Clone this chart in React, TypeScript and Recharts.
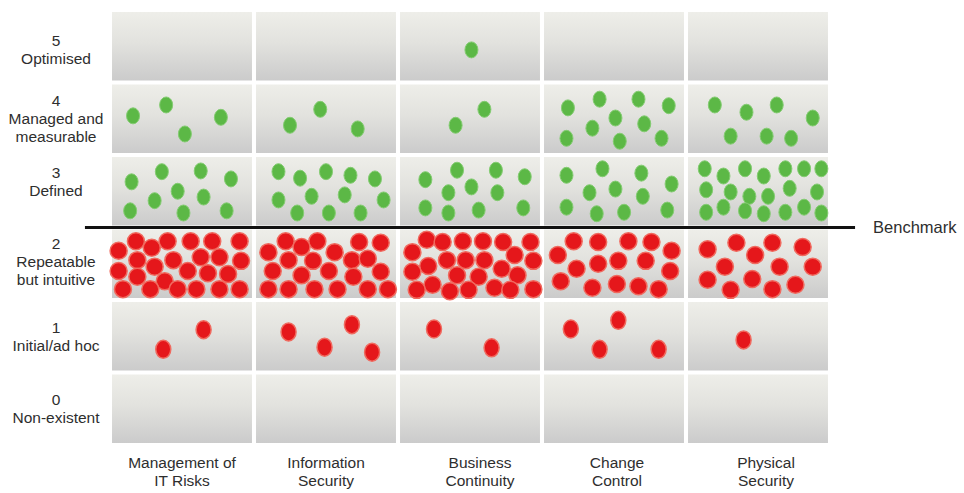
import {
  ScatterChart,
  Scatter,
  XAxis,
  YAxis,
  ReferenceArea,
  ReferenceLine,
} from "recharts";

const categories = [
  "Management of\nIT Risks",
  "Information\nSecurity",
  "Business\nContinuity",
  "Change\nControl",
  "Physical\nSecurity",
];

const levelNumbers = ["0", "1", "2", "3", "4", "5"];
const levelNames = [
  "Non-existent",
  "Initial/ad hoc",
  "Repeatable\nbut intuitive",
  "Defined",
  "Managed and\nmeasurable",
  "Optimised",
];
const levelShares = ["0%", "6%", "50%", "31%", "13%", ".5%"];
const benchmarkLevel = 3;

// each cell: list of [x, y] positions inside the cell (0..1), one per organisation
const level5Dots = [[], [], [[0.51, 0.45]], [], []];

const level4Dots = [
  [[0.16, 0.54], [0.39, 0.69], [0.52, 0.29], [0.77, 0.52]],
  [[0.25, 0.41], [0.46, 0.63], [0.72, 0.36]],
  [[0.4, 0.41], [0.6, 0.63]],
  [
    [0.18, 0.65], [0.4, 0.77], [0.67, 0.77], [0.88, 0.68], [0.51, 0.51],
    [0.35, 0.37], [0.71, 0.43], [0.17, 0.23], [0.54, 0.19], [0.83, 0.23],
  ],
  [
    [0.2, 0.69], [0.42, 0.59], [0.63, 0.69], [0.88, 0.51], [0.31, 0.26],
    [0.56, 0.26], [0.73, 0.23],
  ],
];

const level3Dots = [
  [
    [0.15, 0.63], [0.36, 0.77], [0.63, 0.78], [0.84, 0.67], [0.47, 0.5],
    [0.65, 0.42], [0.31, 0.37], [0.14, 0.23], [0.51, 0.2], [0.81, 0.23],
  ],
  [
    [0.17, 0.77], [0.32, 0.68], [0.5, 0.77], [0.67, 0.72], [0.84, 0.67],
    [0.17, 0.38], [0.4, 0.43], [0.63, 0.45], [0.9, 0.38], [0.3, 0.2],
    [0.52, 0.2], [0.74, 0.2],
  ],
  [
    [0.19, 0.66], [0.41, 0.79], [0.68, 0.79], [0.88, 0.7], [0.35, 0.48],
    [0.51, 0.56], [0.69, 0.48], [0.87, 0.27], [0.19, 0.27], [0.35, 0.2],
    [0.56, 0.24],
  ],
  [
    [0.17, 0.72], [0.42, 0.81], [0.69, 0.75], [0.9, 0.6], [0.33, 0.48],
    [0.51, 0.53], [0.7, 0.43], [0.17, 0.28], [0.38, 0.19], [0.57, 0.21],
    [0.87, 0.24],
  ],
  [
    [0.13, 0.81], [0.26, 0.71], [0.41, 0.81], [0.54, 0.71], [0.69, 0.81],
    [0.82, 0.81], [0.94, 0.81], [0.14, 0.52], [0.31, 0.49], [0.44, 0.43],
    [0.57, 0.43], [0.72, 0.54], [0.91, 0.49], [0.14, 0.21], [0.26, 0.28],
    [0.41, 0.23], [0.54, 0.19], [0.69, 0.21], [0.82, 0.28], [0.94, 0.2],
  ],
];

const level2Dots = [
  [
    [0.18, 0.81], [0.4, 0.81], [0.56, 0.81], [0.71, 0.81], [0.9, 0.81],
    [0.29, 0.72], [0.06, 0.68], [0.19, 0.55], [0.44, 0.55], [0.63, 0.59],
    [0.76, 0.59], [0.91, 0.54], [0.06, 0.4], [0.31, 0.46], [0.54, 0.4],
    [0.68, 0.37], [0.82, 0.36], [0.19, 0.32], [0.38, 0.26], [0.09, 0.15],
    [0.28, 0.15], [0.47, 0.15], [0.6, 0.15], [0.76, 0.15], [0.9, 0.15],
  ],
  [
    [0.22, 0.81], [0.44, 0.81], [0.73, 0.8], [0.88, 0.79], [0.1, 0.66],
    [0.33, 0.73], [0.56, 0.66], [0.24, 0.55], [0.41, 0.54], [0.68, 0.55],
    [0.79, 0.57], [0.13, 0.4], [0.33, 0.34], [0.52, 0.4], [0.69, 0.32],
    [0.88, 0.39], [0.1, 0.15], [0.24, 0.15], [0.42, 0.15], [0.58, 0.15],
    [0.79, 0.15], [0.93, 0.15],
  ],
  [
    [0.2, 0.83], [0.31, 0.8], [0.45, 0.81], [0.59, 0.81], [0.73, 0.8],
    [0.92, 0.8], [0.1, 0.66], [0.34, 0.55], [0.47, 0.55], [0.6, 0.55],
    [0.81, 0.62], [0.94, 0.54], [0.21, 0.47], [0.1, 0.39], [0.41, 0.34],
    [0.56, 0.32], [0.72, 0.43], [0.83, 0.34], [0.24, 0.21], [0.13, 0.14],
    [0.36, 0.12], [0.49, 0.14], [0.67, 0.17], [0.78, 0.14], [0.94, 0.15],
  ],
  [
    [0.22, 0.81], [0.39, 0.8], [0.6, 0.81], [0.76, 0.8], [0.9, 0.68],
    [0.11, 0.62], [0.39, 0.5], [0.53, 0.54], [0.72, 0.54], [0.24, 0.43],
    [0.89, 0.4], [0.13, 0.26], [0.35, 0.17], [0.52, 0.22], [0.67, 0.19],
    [0.81, 0.15],
  ],
  [
    [0.15, 0.7], [0.35, 0.79], [0.6, 0.79], [0.81, 0.73], [0.48, 0.62],
    [0.27, 0.46], [0.65, 0.46], [0.88, 0.46], [0.15, 0.28], [0.46, 0.29],
    [0.31, 0.14], [0.6, 0.15], [0.76, 0.21],
  ],
];

const level1Dots = [
  [[0.37, 0.32], [0.65, 0.59]],
  [[0.24, 0.56], [0.68, 0.66], [0.49, 0.35], [0.82, 0.28]],
  [[0.25, 0.6], [0.65, 0.34]],
  [[0.2, 0.6], [0.53, 0.72], [0.4, 0.32], [0.81, 0.32]],
  [[0.4, 0.45]],
];

const toPoints = (level: number, cells: number[][][]) =>
  cells.flatMap((cell, col) =>
    cell.map(([fx, fy]) => ({ x: col + fx, y: level + fy }))
  );

const greenPoints = [
  ...toPoints(5, level5Dots),
  ...toPoints(4, level4Dots),
  ...toPoints(3, level3Dots),
];
const redPoints = toPoints(2, level2Dots);
const redFewPoints = toPoints(1, level1Dots);

const FONT = "'Liberation Sans', Arial, Helvetica, sans-serif";
const TEXT = "#2e2e2e";

const cells = levelNumbers.flatMap((_, level) =>
  categories.map((_, col) => ({ col, level }))
);

const GreenDot = (p: any) => (
  <ellipse cx={p.cx} cy={p.cy} rx={6.5} ry={8} fill="#5cb846" stroke="#84cc72" strokeWidth={1} />
);
const RedDot = (p: any) => (
  <circle cx={p.cx} cy={p.cy} r={8.5} fill="#e5171b" stroke="#f06a5f" strokeWidth={1.5} />
);
const RedSmallDot = (p: any) => (
  <ellipse cx={p.cx} cy={p.cy} rx={7.5} ry={9} fill="#e5171b" stroke="#f06a5f" strokeWidth={1.5} />
);

const levelNudge = [0, 0, -2, -10, 0, 3];
const categoryNudge = [0, 0, 10, 3, 8];

const LevelTick = (props: any) => {
  const { x, y, payload } = props;
  const level = Math.floor(payload.value);
  const lines = [levelNumbers[level], ...levelNames[level].split("\n")];
  const start = y - ((lines.length - 1) * 18) / 2 + levelNudge[level];
  return (
    <g>
      {lines.map((t, i) => (
        <text
          key={i}
          x={x - 54}
          y={start + i * 18}
          dy="0.35em"
          textAnchor="middle"
          fontFamily={FONT}
          fontSize={15.5}
          fill={TEXT}
        >
          {t}
        </text>
      ))}
    </g>
  );
};

const ShareTick = (props: any) => {
  const { x, y, payload } = props;
  const level = Math.floor(payload.value);
  return (
    <text x={x + 8} y={y + 2} dy="0.35em" textAnchor="start" fontFamily={FONT} fontSize={14.5} fill={TEXT}>
      {levelShares[level]}
    </text>
  );
};

const CategoryTick = (props: any) => {
  const { x, y, payload } = props;
  const col = Math.floor(payload.value);
  const lines = categories[col].split("\n");
  return (
    <g>
      {lines.map((t, i) => (
        <text
          key={i}
          x={x + categoryNudge[col]}
          y={y + 18 + i * 18}
          dy="0.35em"
          textAnchor="middle"
          fontFamily={FONT}
          fontSize={15.5}
          fill={TEXT}
        >
          {t}
        </text>
      ))}
    </g>
  );
};

export default function App() {
  const colTicks = categories.map((_, i) => i + 0.5);
  const levelTicks = levelNumbers.map((_, i) => i + 0.5);

  return (
    <div style={{ position: "absolute", left: 0, top: 0, background: "#ffffff" }}>
      <ScatterChart
        width={964}
        height={493}
        margin={{ top: 10, right: 0, bottom: 0, left: 0 }}
      >
        <defs>
          <linearGradient id="cellFill" x1="0" y1="0" x2="0" y2="1">
            <stop offset="0%" stopColor="#eeeee9" />
            <stop offset="45%" stopColor="#e2e2de" />
            <stop offset="100%" stopColor="#cbcbcb" />
          </linearGradient>
        </defs>
        <XAxis
          type="number"
          dataKey="x"
          domain={[0, 5]}
          ticks={colTicks}
          interval={0}
          axisLine={false}
          tickLine={false}
          tickSize={0}
          tickMargin={0}
          height={48}
          tick={<CategoryTick />}
        />
        <YAxis
          yAxisId="left"
          type="number"
          dataKey="y"
          domain={[0, 6]}
          ticks={levelTicks}
          interval={0}
          axisLine={false}
          tickLine={false}
          tickSize={0}
          tickMargin={0}
          width={110}
          tick={<LevelTick />}
        />
        <YAxis
          yAxisId="right"
          orientation="right"
          type="number"
          dataKey="y"
          domain={[0, 6]}
          ticks={levelTicks}
          interval={0}
          axisLine={false}
          tickLine={false}
          tickSize={0}
          tickMargin={0}
          width={134}
          tick={<ShareTick />}
        />
        {cells.map(({ col, level }) => (
          <ReferenceArea
            key={`${col}-${level}`}
            yAxisId="left"
            x1={col + 0.014}
            x2={col + 1 - 0.014}
            y1={level + 0.028}
            y2={level + 1 - 0.028}
            fill="url(#cellFill)"
            fillOpacity={1}
            stroke="none"
          />
        ))}
        <ReferenceLine
          yAxisId="left"
          segment={[
            { x: -0.174, y: benchmarkLevel },
            { x: 5.174, y: benchmarkLevel },
          ]}
          ifOverflow="visible"
          stroke="#111111"
          strokeWidth={3}
          label={{
            value: "Benchmark",
            position: "right",
            offset: 18,
            fill: TEXT,
            fontSize: 16.5,
            fontFamily: FONT,
          }}
        />
        <Scatter yAxisId="left" data={greenPoints} shape={GreenDot} isAnimationActive={false} />
        <Scatter yAxisId="left" data={redPoints} shape={RedDot} isAnimationActive={false} />
        <Scatter yAxisId="left" data={redFewPoints} shape={RedSmallDot} isAnimationActive={false} />
      </ScatterChart>
    </div>
  );
}
